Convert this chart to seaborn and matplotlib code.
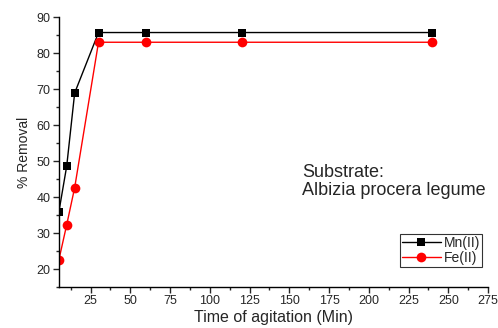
import pandas as pd
import matplotlib.pyplot as plt
import seaborn as sns
from matplotlib.ticker import MultipleLocator

time_min = [5, 10, 15, 30, 60, 120, 240]
mn_removal = [35.7, 48.6, 68.9, 85.7, 85.7, 85.7, 85.7]
fe_removal = [22.4, 32.3, 42.6, 83.0, 83.0, 83.0, 83.0]

sns.set_style("ticks")
plt.rcParams['font.family'] = ['Liberation Sans', 'DejaVu Sans']

fig = plt.figure(figsize=(4.98, 3.28), dpi=100)
ax = fig.add_axes([0.118, 0.125, 0.862, 0.823])

sns.lineplot(x=time_min, y=mn_removal, ax=ax, color="black", marker="s",
             markersize=6, markeredgewidth=0, linewidth=1, label="Mn(II)")
sns.lineplot(x=time_min, y=fe_removal, ax=ax, color="red", marker="o",
             markersize=7, markeredgewidth=0, linewidth=1, label="Fe(II)")

ax.set_xlim(5, 275)
ax.set_ylim(15, 90)
ax.xaxis.set_major_locator(MultipleLocator(25))
ax.xaxis.set_minor_locator(MultipleLocator(12.5))
ax.yaxis.set_major_locator(MultipleLocator(10))
ax.yaxis.set_minor_locator(MultipleLocator(5))
ax.set_xticks(range(25, 276, 25))
ax.tick_params(which="major", length=4, width=1, labelsize=9, direction="out", pad=2)
ax.tick_params(which="minor", length=2.5, width=1, direction="out")
sns.despine(ax=ax)
for s in ["left", "bottom"]:
    ax.spines[s].set_linewidth(1)
    ax.spines[s].set_color("black")

ax.set_xlabel("Time of agitation (Min)", fontsize=11.5, labelpad=2)
ax.set_ylabel("% Removal", fontsize=10, labelpad=4)

ax.text(0.566, 0.455, "Substrate:\nAlbizia procera legume", transform=ax.transAxes,
        fontsize=13, linespacing=1.05, va="top", ha="left")

leg = ax.legend(loc="lower right", bbox_to_anchor=(0.986, 0.074), fontsize=10,
                frameon=True, fancybox=False, edgecolor="black",
                handlelength=2.8, handletextpad=0.2, borderpad=0.15,
                labelspacing=0.05, borderaxespad=0)
leg.get_frame().set_linewidth(0.8)

fig.savefig("out.png", dpi=100)
